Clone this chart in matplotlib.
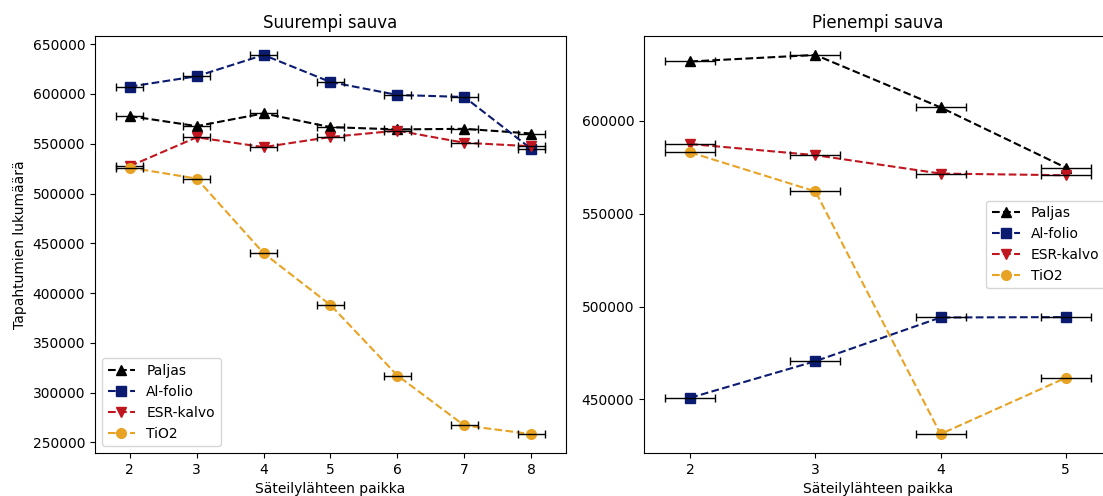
import matplotlib

matplotlib.use("Agg")
import matplotlib.pyplot as plt
from matplotlib.ticker import MultipleLocator

# Suurempi sauva (large rod), source positions 2..8
big_pos = [2, 3, 4, 5, 6, 7, 8]
big_paljas = [577800, 567700, 580500, 566700, 564400, 565000, 560300]
big_alfolio = [607400, 617800, 639200, 612000, 599000, 597000, 544900]
big_esr = [527500, 556500, 546600, 556800, 563200, 551000, 547500]
big_tio2 = [526000, 515000, 440100, 388000, 317200, 267000, 258400]

# Pienempi sauva (small rod), source positions 2..5
small_pos = [2, 3, 4, 5]
small_paljas = [631800, 635300, 607100, 574700]
small_alfolio = [450900, 470600, 494100, 494300]
small_esr = [587400, 581400, 571500, 570600]
small_tio2 = [582900, 561900, 431400, 461600]

pos_err = 0.2

labels = ["Paljas", "Al-folio", "ESR-kalvo", "TiO2"]
colors = ["#000000", "#0b1c70", "#c0161f", "#e8a325"]
markers = ["^", "s", "v", "o"]


def draw_panel(ax, x, series, title):
    for y, label, color, marker in zip(series, labels, colors, markers):
        ax.plot(x, y, linestyle="--", marker=marker, color=color,
                markersize=7, linewidth=1.5, label=label)
        ax.errorbar(x, y, xerr=pos_err, fmt="none", ecolor="k",
                    elinewidth=1, capsize=3)
    ax.set_title(title, fontsize=12)
    ax.set_xlabel("Säteilylähteen paikka")
    ax.set_xticks(x)
    ax.yaxis.set_major_locator(MultipleLocator(50000))


fig = plt.figure(figsize=(11.03, 4.96), dpi=100)
ax1 = fig.add_axes([95 / 1103, 1 - 453 / 496, 471 / 1103, 417 / 496])
ax2 = fig.add_axes([644 / 1103, 1 - 453 / 496, 468 / 1103, 417 / 496])

draw_panel(ax1, big_pos, [big_paljas, big_alfolio, big_esr, big_tio2], "Suurempi sauva")
draw_panel(ax2, small_pos, [small_paljas, small_alfolio, small_esr, small_tio2], "Pienempi sauva")

ax1.set_ylabel("Tapahtumien lukumäärä")
ax1.legend(loc="lower left")
ax2.legend(loc="center right")

fig.savefig("out.png", dpi=100)
